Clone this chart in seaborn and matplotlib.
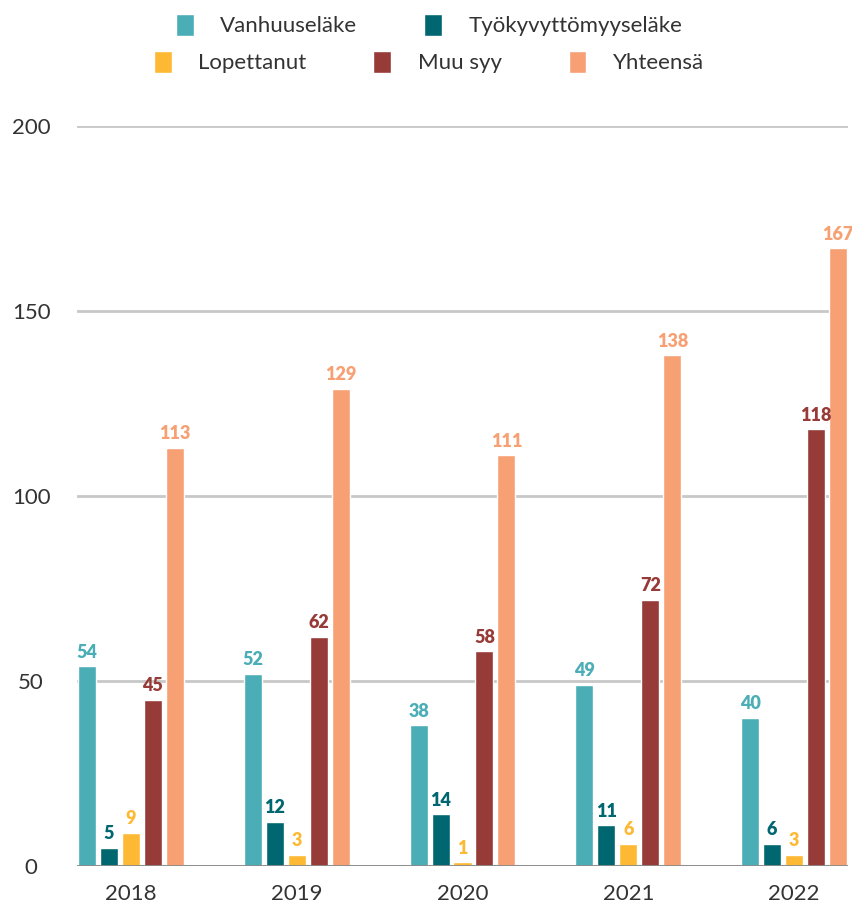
import matplotlib
matplotlib.use("Agg")
import matplotlib.pyplot as plt
import seaborn as sns
import pandas as pd

years = ["2018", "2019", "2020", "2021", "2022"]
series = ["Vanhuuseläke", "Työkyvyttömyyseläke", "Lopettanut", "Muu syy", "Yhteensä"]
vanhuus = [54, 52, 38, 49, 40]
tyokyvyttomyys = [5, 12, 14, 11, 6]
lopettanut = [9, 3, 1, 6, 3]
muu_syy = [45, 62, 58, 72, 118]
yhteensa = [113, 129, 111, 138, 167]
colors = ["#4BAEB6", "#006670", "#FDB934", "#963B37", "#F7A074"]
yticks = [0, 50, 100, 150, 200]

values = [vanhuus, tyokyvyttomyys, lopettanut, muu_syy, yhteensa]
rows = []
for s, vals in zip(series, values):
    for y, v in zip(years, vals):
        rows.append({"Vuosi": y, "Sarja": s, "Arvo": v})
df = pd.DataFrame(rows)

sns.set_theme(style="white")
plt.rcParams["font.family"] = ["Lato", "DejaVu Sans"]

fig = plt.figure(figsize=(8.53, 9.10), dpi=100)
ax = fig.add_axes([77/853, 1-866/910, (848-77)/853, (866-126)/910])

sns.barplot(data=df, x="Vuosi", y="Arvo", hue="Sarja", hue_order=series,
            order=years, palette=colors, width=0.6627, gap=0.18,
            saturation=1, ax=ax, zorder=3, legend=True)

for cont, col in zip(ax.containers, colors):
    ax.bar_label(cont, padding=4, color=col, fontsize=13, fontweight="heavy")

ax.set_ylim(0, 200)
ax.set_xlim(-0.325, 4.325)
ax.set_yticks(yticks)
ax.set_yticklabels([str(t) for t in yticks])
for lbl in ax.get_yticklabels():
    lbl.set_horizontalalignment("center")
ax.tick_params(axis="y", length=0, pad=33, labelsize=16, labelcolor="#333333")
ax.tick_params(axis="x", length=0, pad=13, labelsize=16, labelcolor="#333333")
ax.set_xlabel("")
ax.set_ylabel("")
ax.grid(axis="y", color="#c8c8c8", linewidth=2, zorder=0)
ax.grid(axis="x", visible=False)
ax.set_axisbelow(True)
for sp in ax.spines.values():
    sp.set_visible(False)
ax.axhline(0, color="#888888", linewidth=2, zorder=4)

handles, labels = ax.get_legend_handles_labels()
ax.get_legend().remove()
kw = dict(frameon=False, fontsize=16, handlelength=0.8, handleheight=1.2,
          handletextpad=1.2, columnspacing=3.0, labelcolor="#333333")
leg1 = fig.legend(handles[:2], labels[:2], ncol=2, loc="center",
                  bbox_to_anchor=(0.503, 1-25/910), **kw)
leg2 = fig.legend(handles[2:], labels[2:], ncol=3, loc="center",
                  bbox_to_anchor=(0.503, 1-62/910), **kw)

fig.savefig("out.png", dpi=100)
